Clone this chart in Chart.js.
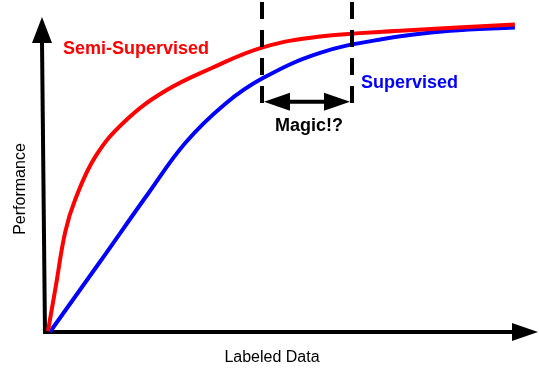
<!DOCTYPE html>
<html>
<head>
<meta charset="utf-8">
<script src="https://cdn.jsdelivr.net/npm/chart.js@4/dist/chart.umd.min.js"></script>
<style>
  html, body { margin: 0; padding: 0; background: #ffffff; }
  #wrap { width: 539px; height: 371px; }
</style>
</head>
<body>
<div id="wrap"><canvas id="c" width="539" height="371"></canvas></div>
<script>
// Labeled data (x) and performance (y), arbitrary 0-100 units
const semiX = [0.4, 2.0, 3.9, 5.9, 10.0, 16.1, 24.2, 33.7, 43.9, 55.7, 72.0, 95.3];
const semiY = [0.3, 14.6, 31.7, 41.9, 55.6, 67.0, 76.5, 83.8, 90.3, 93.8, 95.6, 97.6];
const supX  = [0.8, 10.8, 20.7, 28.3, 36.4, 44.1, 55.7, 68.5, 82.1, 95.3];
const supY  = [0.0, 21.9, 43.8, 60.0, 72.4, 80.6, 88.6, 93.0, 95.6, 96.7];
// "Magic" gap: same performance reached with fewer labels
const magicX = [43.9, 62.2];
const magicSpanY = [72.7, 104.8];
const magicArrowY = [73.1];
const labels = { semi: "Semi-Supervised", sup: "Supervised", magic: "Magic!?", xTitle: "Labeled Data", yTitle: "Performance" };

const toPts = (xs, ys) => xs.map((v, i) => ({ x: v, y: ys[i] }));

const FONT = '"Liberation Sans", Arial, sans-serif';

const decor = {
  id: 'decor',
  beforeDatasetsDraw(chart) {
    const { ctx, chartArea: ca, scales: { x, y } } = chart;
    const ox = x.getPixelForValue(0), oy = y.getPixelForValue(0);
    ctx.save();
    ctx.strokeStyle = '#000'; ctx.fillStyle = '#000';
    ctx.lineWidth = 4; ctx.lineCap = 'butt';
    // y axis (slightly leaning as in the sketch)
    ctx.beginPath(); ctx.moveTo(ox - 1, oy + 2); ctx.lineTo(ox - 4, ca.top + 24); ctx.stroke();
    ctx.beginPath();
    ctx.moveTo(ox - 4, ca.top);
    ctx.lineTo(ox - 14, ca.top + 26);
    ctx.lineTo(ox + 6, ca.top + 26);
    ctx.closePath(); ctx.fill();
    // x axis
    ctx.beginPath(); ctx.moveTo(ox - 3, oy); ctx.lineTo(ca.right - 24, oy); ctx.stroke();
    ctx.beginPath();
    ctx.moveTo(ca.right, oy);
    ctx.lineTo(ca.right - 26, oy - 9);
    ctx.lineTo(ca.right - 26, oy + 9);
    ctx.closePath(); ctx.fill();
    // axis titles
    ctx.font = '16px ' + FONT;
    ctx.textAlign = 'center'; ctx.textBaseline = 'alphabetic';
    ctx.fillText(labels.xTitle, 272, 362);
    ctx.save();
    ctx.translate(25, 189); ctx.rotate(-Math.PI / 2);
    ctx.fillText(labels.yTitle, 0, 0);
    ctx.restore();
    ctx.restore();
  },
  afterDatasetsDraw(chart) {
    const { ctx, scales: { x, y } } = chart;
    ctx.save();
    // dashed verticals
    ctx.strokeStyle = '#000'; ctx.fillStyle = '#000';
    ctx.lineWidth = 4; ctx.setLineDash([17, 11]);
    const yTop = y.getPixelForValue(magicSpanY[1]);
    const yBot = y.getPixelForValue(magicSpanY[0]);
    magicX.forEach(v => {
      const px = Math.round(x.getPixelForValue(v));
      ctx.beginPath(); ctx.moveTo(px, yTop); ctx.lineTo(px, yBot); ctx.stroke();
    });
    ctx.setLineDash([]);
    // double-headed arrow
    const ay = y.getPixelForValue(magicArrowY[0]);
    const x1 = x.getPixelForValue(magicX[0]) + 2;
    const x2 = x.getPixelForValue(magicX[1]) - 2;
    ctx.beginPath(); ctx.moveTo(x1 + 20, ay); ctx.lineTo(x2 - 20, ay); ctx.stroke();
    ctx.beginPath();
    ctx.moveTo(x1, ay); ctx.lineTo(x1 + 26, ay - 9); ctx.lineTo(x1 + 26, ay + 9); ctx.closePath(); ctx.fill();
    ctx.beginPath();
    ctx.moveTo(x2, ay); ctx.lineTo(x2 - 26, ay - 9); ctx.lineTo(x2 - 26, ay + 9); ctx.closePath(); ctx.fill();
    // labels
    ctx.font = 'bold 18px ' + FONT;
    ctx.textAlign = 'left'; ctx.textBaseline = 'alphabetic';
    ctx.fillStyle = '#000';
    ctx.fillText(labels.magic, 275, 131);
    ctx.fillStyle = '#ff0000';
    ctx.fillText(labels.semi, 63, 54);
    ctx.fillStyle = '#0000ff';
    ctx.fillText(labels.sup, 361, 88);
    ctx.restore();
  }
};

new Chart(document.getElementById('c'), {
  type: 'scatter',
  data: {
    datasets: [
      { label: labels.semi, data: toPts(semiX, semiY), showLine: true, borderColor: '#ff0000', borderWidth: 4,
        pointRadius: 0, tension: 0.4, clip: false, fill: false },
      { label: labels.sup, data: toPts(supX, supY), showLine: true, borderColor: '#0000ff', borderWidth: 4,
        pointRadius: 0, tension: 0.4, clip: false, fill: false }
    ]
  },
  options: {
    responsive: false,
    animation: false,
    devicePixelRatio: 1,
    layout: { padding: { left: 46, right: 1, top: 17, bottom: 39 } },
    scales: {
      x: { type: 'linear', min: 0, max: 100, display: false },
      y: { type: 'linear', min: 0, max: 100, display: false }
    },
    plugins: { legend: { display: false }, tooltip: { enabled: false } }
  },
  plugins: [decor]
});
</script>
</body>
</html>
